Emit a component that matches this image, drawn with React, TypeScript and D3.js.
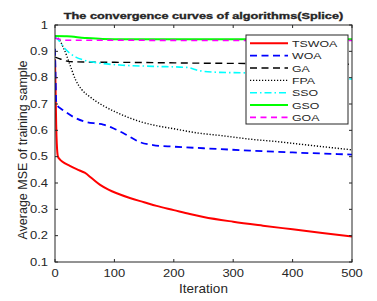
import React from 'react';
import * as d3 from 'd3';

// iteration / MSE pairs
const tswoa = [[0,0.87],[1,0.75],[2,0.62],[3,0.55],[5,0.5],[8,0.49],[12,0.482],[25,0.465],[40,0.449],[50,0.439],[62,0.418],[76,0.393],[90,0.375],[104,0.361],[126,0.343],[150,0.327],[171,0.313],[200,0.297],[227,0.282],[250,0.271],[300,0.253],[350,0.238],[400,0.224],[450,0.21],[500,0.197]];
const woa = [[0,0.91],[1,0.8],[2,0.71],[4,0.695],[10,0.682],[17,0.671],[30,0.652],[50,0.633],[73,0.625],[81,0.622],[98,0.608],[110,0.595],[121,0.582],[143,0.555],[165,0.544],[200,0.538],[250,0.532],[328,0.523],[400,0.516],[500,0.508]];
const ga = [[0,0.878],[10,0.87],[25,0.861],[60,0.859],[126,0.858],[250,0.855],[400,0.853],[500,0.851]];
const fpa = [[0,0.955],[5,0.95],[15,0.91],[25,0.85],[35,0.79],[45,0.755],[60,0.725],[80,0.695],[100,0.672],[120,0.652],[145,0.632],[170,0.618],[200,0.606],[240,0.59],[280,0.58],[330,0.566],[370,0.558],[410,0.548],[450,0.538],[500,0.526]];
const sso = [[0,0.955],[5,0.945],[15,0.915],[25,0.893],[35,0.878],[48,0.867],[76,0.855],[109,0.848],[165,0.843],[222,0.839],[244,0.826],[278,0.82],[323,0.818],[400,0.805],[450,0.797],[500,0.795]];
const gso = [[0,0.958],[20,0.957],[50,0.951],[80,0.947],[120,0.946],[300,0.946],[500,0.946]];
const goa = [[0,0.95],[8,0.946],[15,0.942],[100,0.942],[300,0.941],[500,0.941]];

const names = ['TSWOA', 'WOA', 'GA', 'FPA', 'SSO', 'GSO', 'GOA'];
const xTicks = [0, 100, 200, 300, 400, 500];
const yTicks = [0.1, 0.2, 0.3, 0.4, 0.5, 0.6, 0.7, 0.8, 0.9, 1];

/* line styles */
const styles = [
  { data: tswoa, color: '#ff0000', w: 2, dash: null },
  { data: woa,   color: '#0000ff', w: 1.8, dash: '7,4.5' },
  { data: ga,    color: '#000000', w: 1.4, dash: '7,4.5' },
  { data: fpa,   color: '#000000', w: 1.4, dash: '1.2,1.8' },
  { data: sso,   color: '#00ffff', w: 1.6, dash: '7,3,1.5,3' },
  { data: gso,   color: '#00ff00', w: 2, dash: null },
  { data: goa,   color: '#ff00ff', w: 1.6, dash: '6,4.5' },
];

const W = 377, H = 301;
const M = { l: 55, r: 25, t: 25, b: 39 };
const axisCol = '#262626';
const font = '"Liberation Sans", Arial, sans-serif';
const SX = 1.3; // text in the reference is stretched sideways

const T = ({ x, y, size, anchor = 'start', bold = false, children }: any) => (
  <text
    transform={`translate(${x},${y}) scale(${SX},1)`}
    fontSize={size}
    fontFamily={font}
    fontWeight={bold ? 'bold' : 'normal'}
    textAnchor={anchor}
    fill={axisCol}
    stroke={bold ? axisCol : 'none'}
    strokeWidth={bold ? 0.35 : 0}
  >{children}</text>
);

export default function App() {
  const x = d3.scaleLinear().domain([0, 500]).range([M.l, W - M.r]);
  const y = d3.scaleLinear().domain([0.1, 1]).range([H - M.b, M.t]);
  const line = d3.line<number[]>().x(d => x(d[0])).y(d => y(d[1])).curve(d3.curveMonotoneX);

  const lx = 246, ly = 35, lw = 102, lh = 89;

  return (
    <svg width={W} height={H} style={{ position: 'absolute', left: 0, top: 0, background: '#fff' }}>
      <rect x={0} y={0} width={W} height={H} fill="#fff" />
      <defs>
        <clipPath id="plot">
          <rect x={M.l} y={M.t} width={W - M.l - M.r} height={H - M.t - M.b} />
        </clipPath>
      </defs>

      {/* curves */}
      <g clipPath="url(#plot)">
        {styles.map((s, i) => (
          <path key={i} d={line(s.data as any) as string} fill="none" stroke={s.color}
            strokeWidth={s.w} strokeDasharray={s.dash || undefined} />
        ))}
      </g>

      {/* box + ticks */}
      <rect x={M.l} y={M.t} width={W - M.l - M.r} height={H - M.t - M.b} fill="none" stroke={axisCol} strokeWidth={1} />
      {xTicks.map(t => (
        <g key={t}>
          <line x1={x(t)} x2={x(t)} y1={y(0.1)} y2={y(0.1) - 3} stroke={axisCol} />
          <line x1={x(t)} x2={x(t)} y1={y(1)} y2={y(1) + 3} stroke={axisCol} />
          <T x={x(t)} y={276.5} size={10} anchor="middle">{t}</T>
        </g>
      ))}
      {yTicks.map(t => (
        <g key={t}>
          <line x1={x(0)} x2={x(0) + 3} y1={y(t)} y2={y(t)} stroke={axisCol} />
          <line x1={x(500)} x2={x(500) - 3} y1={y(t)} y2={y(t)} stroke={axisCol} />
          <T x={48} y={y(t) + 3.6} size={10} anchor="end">{d3.format('~g')(t)}</T>
        </g>
      ))}

      {/* titles */}
      <T x={(x(0) + x(500)) / 2} y={18.5} size={9.8} anchor="middle" bold>
        The convergence curves of algorithms(Splice)
      </T>
      <text x={(x(0) + x(500)) / 2} y={293} fontSize={13.5} fontFamily={font} textAnchor="middle" fill={axisCol}>Iteration</text>
      <text transform={`translate(27,${150}) rotate(-90)`} fontSize={12.5} fontFamily={font} textAnchor="middle" fill={axisCol}>
        Average MSE of training sample
      </text>

      {/* legend */}
      <rect x={lx} y={ly} width={lw} height={lh} fill="#fff" stroke={axisCol} strokeWidth={1} />
      {styles.map((s, i) => {
        const yy = ly + 8.3 + i * 12.35;
        return (
          <g key={i}>
            <line x1={lx + 4} x2={lx + 42} y1={yy} y2={yy} stroke={s.color} strokeWidth={s.w}
              strokeDasharray={s.dash || undefined} />
            <T x={lx + 46} y={yy + 3.5} size={9.5}>{names[i]}</T>
          </g>
        );
      })}
    </svg>
  );
}
